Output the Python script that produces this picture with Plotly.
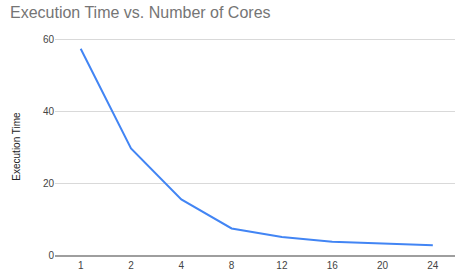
import plotly.graph_objects as go

cores = ["1", "2", "4", "8", "12", "16", "20", "24"]
exec_time = [57.5, 29.7, 15.5, 7.4, 5.0, 3.7, 3.2, 2.7]
y_ticks = [0, 20, 40, 60]

fig = go.Figure()
fig.add_trace(go.Scatter(
    x=cores, y=exec_time, mode="lines",
    line=dict(color="#4285F4", width=2),
))

font_family = "Arial, Liberation Sans, sans-serif"
fig.update_layout(
    width=455, height=273,
    margin=dict(l=55, r=0, t=38, b=18),
    paper_bgcolor="white", plot_bgcolor="white",
    showlegend=False,
    title=dict(text="Execution Time vs. Number of Cores", x=0.022, xanchor="left",
               y=0.955, yanchor="middle",
               font=dict(family=font_family, size=16, color="#757575")),
    font=dict(family=font_family, size=10, color="#444444"),
)
fig.update_xaxes(
    type="category", range=[-0.511, 7.441],
    showgrid=False, showline=True, linecolor="#9e9e9e", linewidth=1.5,
    ticks="", tickfont=dict(size=10, color="#444444"),
)
fig.update_yaxes(
    range=[0, 60.5], tickvals=y_ticks,
    showgrid=True, gridcolor="#d9d9d9", gridwidth=1,
    zeroline=False, showline=False, ticks="",
    tickfont=dict(size=10, color="#444444"),
    title=dict(text="Execution Time", font=dict(size=10, color="#222222"), standoff=20),
)

fig.write_html("out.html", config={"displayModeBar": False},
               post_script="document.body.style.margin='0';")
